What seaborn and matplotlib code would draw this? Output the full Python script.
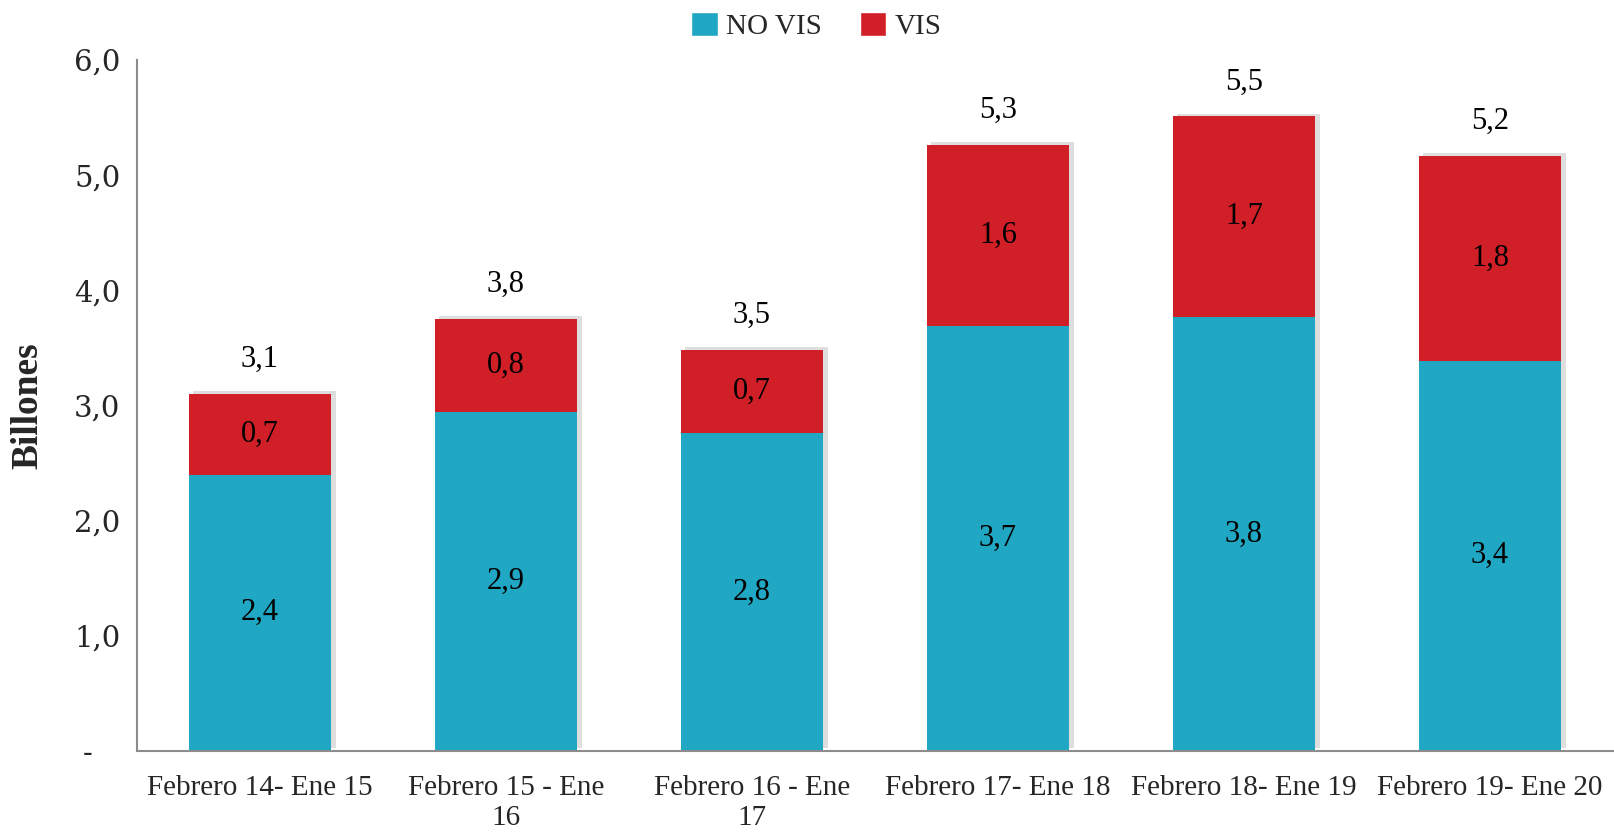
import matplotlib
matplotlib.use("Agg")
import matplotlib.pyplot as plt
import matplotlib.patheffects as pe
from matplotlib.patches import Patch
from matplotlib.ticker import FixedLocator
import seaborn as sns
import pandas as pd

categories = ["Febrero 14- Ene 15", "Febrero 15 - Ene\n16", "Febrero 16 - Ene\n17",
              "Febrero 17- Ene 18", "Febrero 18- Ene 19", "Febrero 19- Ene 20"]
no_vis = [2.40, 2.94, 2.76, 3.69, 3.77, 3.39]
vis = [0.70, 0.81, 0.72, 1.57, 1.74, 1.78]
no_vis_labels = ["2,4", "2,9", "2,8", "3,7", "3,8", "3,4"]
vis_labels = ["0,7", "0,8", "0,7", "1,6", "1,7", "1,8"]
total_labels = ["3,1", "3,8", "3,5", "5,3", "5,5", "5,2"]
y_ticks = [0, 1, 2, 3, 4, 5, 6]
y_tick_labels = ["-   ", "1,0", "2,0", "3,0", "4,0", "5,0", "6,0"]

TEAL = "#20A7C4"
RED = "#D01F27"
SPINE = "#8C8C8C"

df = pd.DataFrame({"cat": categories, "no_vis": no_vis, "vis": vis})
df["total"] = df["no_vis"] + df["vis"]

sns.set_style("white")
plt.rcParams["font.family"] = ["Liberation Serif", "DejaVu Serif"]

fig = plt.figure(figsize=(16.14, 8.32), dpi=100)
ax = fig.add_axes([137 / 1614, 1 - 751 / 832, 1476 / 1614, (751 - 60) / 832])

shadow = [pe.SimplePatchShadow(offset=(3, 2), shadow_rgbFace="#000000", alpha=0.13), pe.Normal()]

sns.barplot(data=df, x="cat", y="total", color=RED, saturation=1, width=0.58, ax=ax,
            edgecolor="none", linewidth=0)
for p in ax.patches:
    p.set_path_effects(shadow)
sns.barplot(data=df, x="cat", y="no_vis", color=TEAL, saturation=1, width=0.58, ax=ax,
            edgecolor="none", linewidth=0)

ax.set_xlim(-0.5, len(categories) - 0.5)
ax.set_ylim(0, 6)

for i, row in df.iterrows():
    ax.text(i, row["no_vis"] / 2, no_vis_labels[i], ha="center", va="center",
            fontsize=22, color="black")
    ax.text(i, row["no_vis"] + row["vis"] / 2, vis_labels[i], ha="center", va="center",
            fontsize=22, color="black")
    ax.text(i, row["total"] + 0.3, total_labels[i], ha="center", va="center",
            fontsize=22, color="black")

ax.set_yticks(y_ticks)
ax.set_yticklabels(y_tick_labels)
for lbl in ax.get_yticklabels():
    lbl.set_fontfamily("DejaVu Serif")
    lbl.set_fontsize(21)
ax.tick_params(axis="y", direction="out", length=8, width=1.3, color=SPINE, pad=4)

ax.set_xticks(range(len(categories)))
ax.set_xticklabels(categories, fontsize=21, linespacing=1.2)
ax.tick_params(axis="x", which="major", length=0, pad=17)
ax.xaxis.set_minor_locator(FixedLocator([i + 0.5 for i in range(-1, len(categories))]))
ax.tick_params(axis="x", which="minor", direction="in", length=8, width=1.3, color=SPINE)
for lbl in ax.get_xticklabels():
    lbl.set_verticalalignment("top")

ax.set_xlabel("")
ax.set_ylabel("Billones", fontsize=27, fontweight="bold")
ax.yaxis.set_label_coords(-92 / 1476, 0.5)

for s in ["top", "right"]:
    ax.spines[s].set_visible(False)
for s in ["left", "bottom"]:
    ax.spines[s].set_color(SPINE)
    ax.spines[s].set_linewidth(1.5)

handles = [Patch(facecolor=TEAL, label="NO VIS"), Patch(facecolor=RED, label="VIS")]
fig.legend(handles=handles, loc="center", bbox_to_anchor=(0.506, 1 - 26 / 832), ncol=2,
           frameon=False, fontsize=21, handlelength=0.9, handleheight=0.9,
           handletextpad=0.3, columnspacing=1.3)

fig.savefig("out.png", dpi=100)
